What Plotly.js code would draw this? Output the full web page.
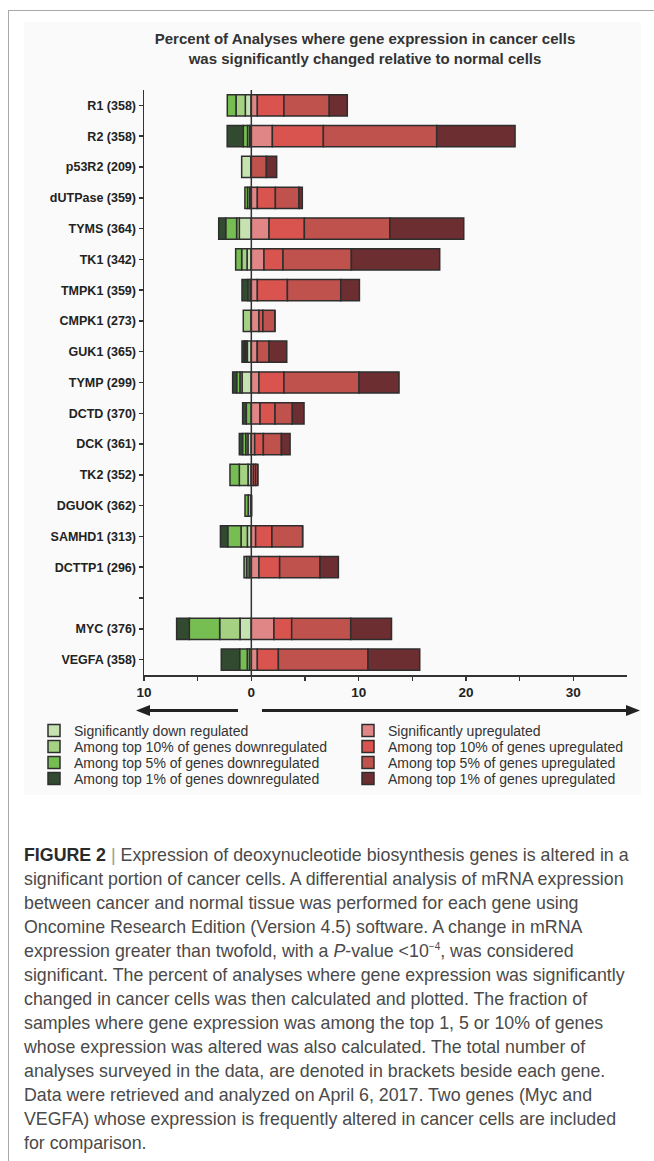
<!DOCTYPE html>
<html><head><meta charset="utf-8">
<script src="https://cdn.plot.ly/plotly-3.0.1.min.js"></script>
<style>
html,body{margin:0;padding:0;background:#fff;width:654px;height:1161px;overflow:hidden;}
#frameTop{position:absolute;left:8px;top:10px;width:646px;height:1px;background:#a8a8a8;}
#frameLeft{position:absolute;left:8px;top:10px;width:1px;height:1151px;background:#a8a8a8;}
#panel{position:absolute;left:24px;top:22px;width:617px;height:773px;background:#fafafa;}
#chart{position:absolute;left:0;top:0;width:654px;height:800px;}
#caption{position:absolute;left:24px;top:843px;font-family:"Liberation Sans",Arial,sans-serif;font-size:17.8px;line-height:24px;color:#4a4a4a;white-space:nowrap;}
#caption b{font-weight:700;color:#2a2a2a;}
#caption .bar{color:#999;}
#caption sup{font-size:10px;line-height:0;vertical-align:7px;}
</style></head>
<body>
<div id="frameTop"></div><div id="frameLeft"></div><div id="panel"></div>
<div id="chart"></div>
<div id="caption"><b>FIGURE 2</b> <span class="bar">|</span> Expression of deoxynucleotide biosynthesis genes is altered in a<br>significant portion of cancer cells. A differential analysis of mRNA expression<br>between cancer and normal tissue was performed for each gene using<br>Oncomine Research Edition (Version 4.5) software. A change in mRNA<br>expression greater than twofold, with a <i>P</i>-value &lt;10<sup>−4</sup>, was considered<br>significant. The percent of analyses where gene expression was significantly<br>changed in cancer cells was then calculated and plotted. The fraction of<br>samples where gene expression was among the top 1, 5 or 10% of genes<br>whose expression was altered was also calculated. The total number of<br>analyses surveyed in the data, are denoted in brackets beside each gene.<br>Data were retrieved and analyzed on April 6, 2017. Two genes (Myc and<br>VEGFA) whose expression is frequently altered in cancer cells are included<br>for comparison.</div>
<script>
// ---- data ----
const genes  = ["R1","R2","p53R2","dUTPase","TYMS","TK1","TMPK1","CMPK1","GUK1","TYMP","DCTD","DCK","TK2","DGUOK","SAMHD1","DCTTP1","","MYC","VEGFA"];
const counts = [358,358,209,359,364,342,359,273,365,299,370,361,352,362,313,296,null,376,358];

// downregulated (percent, drawn to the left)
const sigDown   = [0.56,0.15,0.90,0.15,1.12,0.40,0.12,0.00,0.37,0.87,0.00,0.32,0.31,0.00,0.37,0.21,null,1.06,0.19];
const top10Down = [0.87,0.20,0.00,0.20,0.25,0.50,0.00,0.75,0.15,0.19,0.00,0.20,0.81,0.29,0.59,0.22,null,1.89,0.19];
const top5Down  = [0.81,0.40,0.00,0.25,1.02,0.56,0.20,0.00,0.15,0.31,0.47,0.30,0.87,0.30,1.24,0.25,null,2.83,0.71];
const top1Down  = [0.00,1.50,0.00,0.00,0.65,0.00,0.55,0.00,0.20,0.37,0.34,0.30,0.00,0.00,0.68,0.00,null,1.18,1.71];
// upregulated (percent, drawn to the right)
const sigUp     = [0.56,1.96,0.00,0.56,1.65,1.18,0.56,0.71,0.56,0.71,0.81,0.31,0.20,0.00,0.40,0.71,null,2.11,0.56];
const top10Up   = [2.48,4.75,0.00,1.68,3.29,1.77,2.80,0.37,0.00,2.33,1.40,0.81,0.20,0.00,1.52,1.93,null,1.65,1.96];
const top5Up    = [4.22,10.56,1.40,2.20,7.96,6.37,4.97,1.12,1.09,6.99,1.61,1.68,0.20,0.00,2.86,3.76,null,5.50,8.35];
const top1Up    = [1.68,7.30,0.96,0.31,6.89,8.23,1.74,0.00,1.65,3.73,1.09,0.81,0.00,0.00,0.00,1.71,null,3.80,4.82];

const seriesNames = ["Significantly down regulated","Among top 10% of genes downregulated","Among top 5% of genes downregulated","Among top 1% of genes downregulated",
                     "Significantly upregulated","Among top 10% of genes upregulated","Among top 5% of genes upregulated","Among top 1% of genes upregulated"];
const xTickVals = [-10,-5,0,5,10,15,20,25,30];
const xTickText = ["10","","0","","10","","20","","30"];
const titleText = "Percent of Analyses where gene expression in cancer cells<br>was significantly changed relative to normal cells";

// ---- styles ----
const colors = ["#c6e2b0","#a4d282","#76bd52","#324a30","#e08686","#d9544f","#c0524e","#6c2e30"];
const edge = "#2e2e2e";
const FONT = '"Liberation Sans", Arial, Helvetica, sans-serif';

const yIdx = genes.map((g,i)=>i);
const yLabels = genes.map((g,i)=> g ? g + " (" + counts[i] + ")" : "");

const neg = a => a.map(v => v === null ? null : -v);
const allSeries = [neg(sigDown),neg(top10Down),neg(top5Down),neg(top1Down),sigUp,top10Up,top5Up,top1Up];
const legendIds = allSeries.map((s,k)=> k===0 ? "legend" : "legend"+(k+1));

const traces = allSeries.map((vals,k)=>({
  type:"bar", orientation:"h",
  x: vals, y: yIdx, name: seriesNames[k],
  legend: legendIds[k],
  width: 0.69,
  marker:{color:colors[k], line:{color:edge, width:1.5}},
  hoverinfo:"skip"
}));

const L=144, R=27, T=90, B=125, W=654, H=800;
const pw = W-L-R, ph = H-T-B;
const px = p => (p-L)/pw;
const py = p => (H-B-p)/ph;

const ay = 710.5;
const shapes = [
  {type:"line", xref:"x", yref:"paper", x0:0, x1:0, y0:0, y1:1, layer:"above", line:{color:"#333", width:1.5}},
  {type:"line", xref:"paper", yref:"paper", x0:px(238), x1:px(146), y0:py(ay), y1:py(ay), line:{color:"#222", width:3}},
  {type:"path", xref:"paper", yref:"paper", path:`M${px(136)},${py(ay)} L${px(150)},${py(ay-5.5)} L${px(150)},${py(ay+5.5)} Z`, fillcolor:"#222", line:{width:0}},
  {type:"line", xref:"paper", yref:"paper", x0:px(262), x1:px(630), y0:py(ay), y1:py(ay), line:{color:"#222", width:3}},
  {type:"path", xref:"paper", yref:"paper", path:`M${px(640)},${py(ay)} L${px(626)},${py(ay-5.5)} L${px(626)},${py(ay+5.5)} Z`, fillcolor:"#222", line:{width:0}}
];

const legendFont = {family:FONT, size:14, color:"#333"};
const layout = {
  width:W, height:H,
  margin:{l:L, r:R, t:T, b:B, autoexpand:false},
  paper_bgcolor:"rgba(0,0,0,0)", plot_bgcolor:"rgba(0,0,0,0)",
  barmode:"relative",
  font:{family:FONT, color:"#333"},
  title:{text:titleText, xref:"container", x:365/W, xanchor:"center", yref:"container", y:1-44/H, yanchor:"middle",
         font:{family:FONT, size:15, weight:700, color:"#333"}},
  xaxis:{range:[-10,35], tickmode:"array", tickvals:xTickVals, ticktext:xTickText, showgrid:false, zeroline:false,
         showline:true, linecolor:"#333", linewidth:1.5, ticks:"outside", ticklen:4, tickwidth:1.5, tickcolor:"#333",
         tickfont:{family:FONT, size:13.5, weight:700, color:"#222"}, fixedrange:true},
  yaxis:{range:[18.5,-0.5], tickmode:"array", tickvals:yIdx, ticktext:yLabels, showgrid:false, zeroline:false,
         showline:true, linecolor:"#333", linewidth:1.5, ticks:"outside", ticklen:4, tickwidth:1.5, tickcolor:"#333",
         tickfont:{family:FONT, size:12.5, weight:700, color:"#222"}, fixedrange:true},
  showlegend:true,
  shapes:shapes
};
const rowY = [731,747,763,779];
legendIds.forEach((id,k)=>{
  layout[id] = {x: k<4 ? px(34) : px(348), y: py(rowY[k%4]), xanchor:"left", yanchor:"middle",
                orientation:"v", bgcolor:"rgba(0,0,0,0)", font:legendFont, borderwidth:0};
});

Plotly.newPlot("chart", traces, layout, {displayModeBar:false, staticPlot:true});
</script>
</body></html>
